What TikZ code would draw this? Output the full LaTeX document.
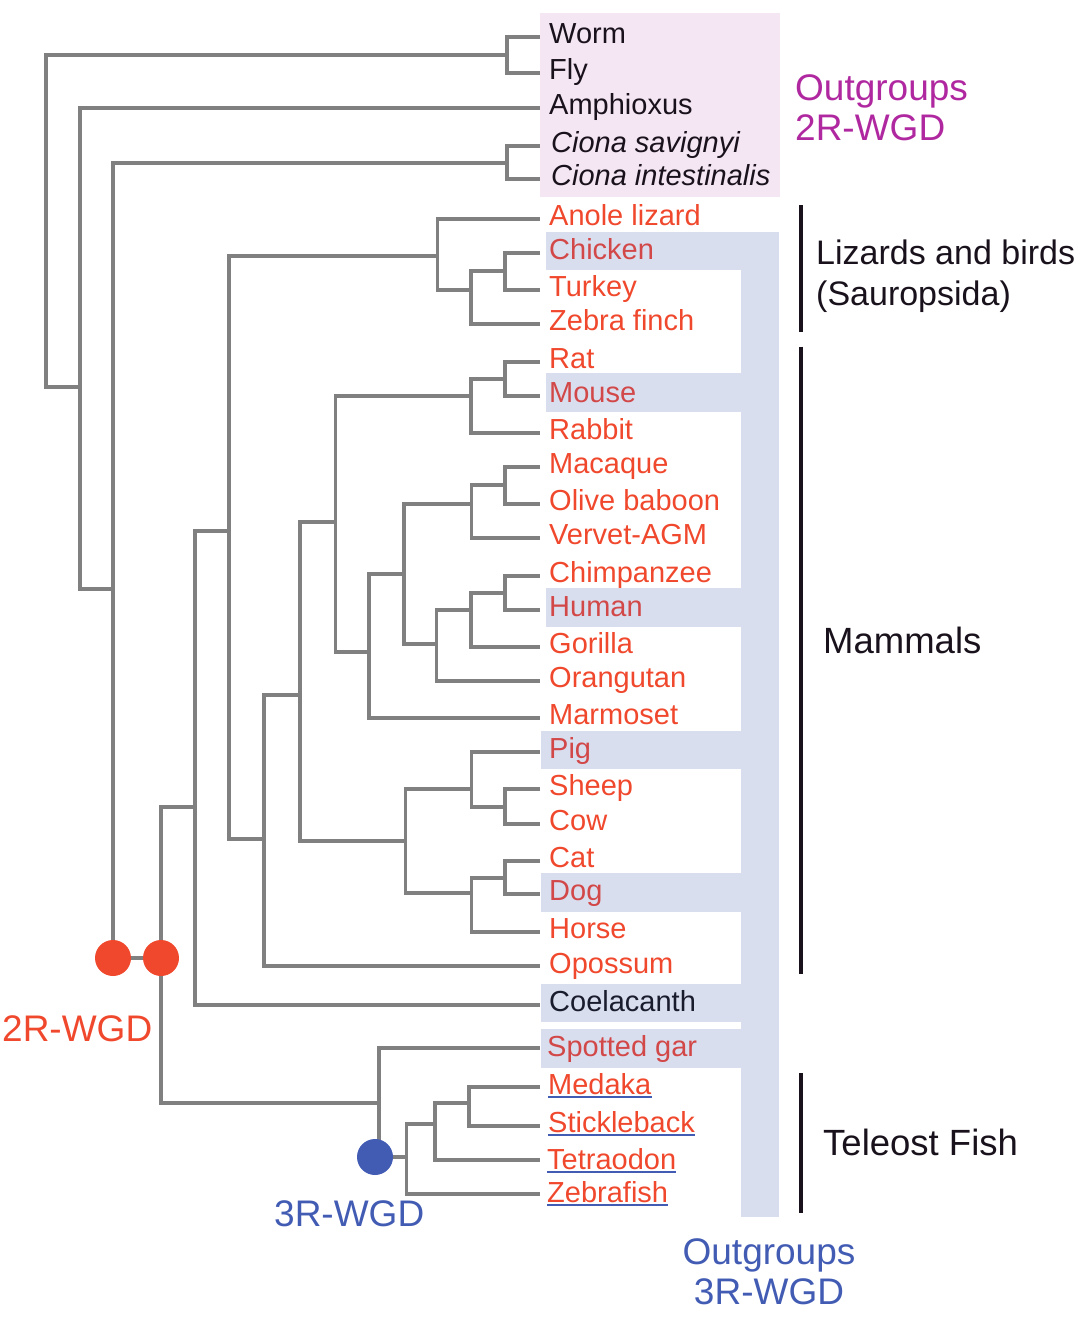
\documentclass[tikz,border=0pt]{standalone}
\usepackage{fontspec}
\setmainfont{Liberation Sans}
\definecolor{treegray}{RGB}{128,128,128}
\definecolor{leafred}{RGB}{240,72,45}
\definecolor{hired}{RGB}{210,72,72}
\definecolor{band}{RGB}{217,222,238}
\definecolor{pinkbox}{RGB}{244,230,243}
\definecolor{magentatxt}{RGB}{176,40,160}
\definecolor{wgdblue}{RGB}{66,92,180}
\definecolor{darktxt}{RGB}{25,18,28}
\definecolor{navytxt}{RGB}{25,28,45}
\tikzset{
  branch/.style={draw=treegray,line width=3.8pt},
  leaf/.style={anchor=base west,inner sep=0pt,font=\fontsize{29}{29}\selectfont},
  grplabel/.style={anchor=west,inner sep=0pt,align=left,text=darktxt},
  bar/.style={draw=darktxt,line width=4pt},
  wgdred/.style={fill=leafred,draw=none,circle,minimum size=36pt,inner sep=0pt},
  wgdbl/.style={fill=wgdblue,draw=none,circle,minimum size=36pt,inner sep=0pt},
  uline/.style={draw=wgdblue,line width=2pt},
}
\begin{document}
\begin{tikzpicture}[x=1pt,y=-1pt]
\useasboundingbox (0,0) rectangle (1086,1326);
% backgrounds
\fill[pinkbox] (540,13.3) rectangle (780,197.3);
\fill[band] (740.5,231.7) rectangle (779,1216.7);
\fill[band] (546,231.7) rectangle (779,270);
\fill[band] (546,373.3) rectangle (779,411.7);
\fill[band] (546,587.7) rectangle (779,626.7);
\fill[band] (540.7,731) rectangle (779,769.3);
\fill[band] (540.7,873.3) rectangle (779,911.7);
\fill[band] (540.7,984) rectangle (779,1022.3);
\fill[band] (540.7,1029.3) rectangle (779,1067.7);

% leaf end points
\foreach \n/\y in {worm/36.7,fly/72.7,amph/108.3,cs/145.7,ci/179.3,anole/219,chicken/253.3,turkey/290,zebrafinch/324,
  rat/361.7,mouse/396,rabbit/432.7,macaque/467.3,olive/504.3,vervet/538.3,chimp/575.7,human/609.7,gorilla/646.7,
  orang/681,marmoset/718.3,pig/752.3,sheep/789.3,cow/823.7,cat/861,dog/894.3,horse/931.7,opossum/966,coel/1005,
  gar/1048.3,medaka/1086.7,stickle/1126,tetra/1160.3,zfish/1194.3}
  \coordinate (l_\n) at (540,\y);

% internal nodes
\coordinate (root) at (45.7,220);
\coordinate (n_wf) at (507,54.7);
\coordinate (n_amph) at (80,386.7);
\coordinate (n_ciona) at (507,162.7);
\coordinate (n_olf) at (113,589);
\coordinate (c1) at (113,958);
\coordinate (c2) at (161,958);
\coordinate (n_sarc) at (194.6,806.7);
\coordinate (n_amniota) at (229,531);
\coordinate (n_saur) at (437.5,256.3);
\coordinate (n_birds) at (471,290);
\coordinate (n_galli) at (505,270.7);
\coordinate (n_ther) at (263.6,839.3);
\coordinate (n_euth) at (300,695);
\coordinate (n_euarch) at (335.5,521.7);
\coordinate (n_glires) at (471,396);
\coordinate (n_rod) at (505,378.7);
\coordinate (n_prim) at (369,652.3);
\coordinate (n_cat) at (403.6,574);
\coordinate (n_owm) at (471.4,504.3);
\coordinate (n_mac) at (505,484.7);
\coordinate (n_ape) at (436.4,644);
\coordinate (n_hom) at (471,609.7);
\coordinate (n_pan) at (505,592.7);
\coordinate (n_laura) at (405.4,840.7);
\coordinate (n_cet) at (471.4,789.3);
\coordinate (n_bov) at (505,806.7);
\coordinate (n_car) at (471.4,893.3);
\coordinate (n_fel) at (505,878.3);
\coordinate (n_actino) at (378.6,1103.3);
\coordinate (c3) at (375,1157);
\coordinate (n_tel) at (406.4,1157);
\coordinate (n_perc) at (435,1124);
\coordinate (n_ms) at (469,1103.3);

% branches
\draw[branch] (n_wf) -| (root) |- (n_amph);
\draw[branch] (l_worm) -| (n_wf) |- (l_fly);
\draw[branch] (l_amph) -| (n_amph) |- (n_olf);
\draw[branch] (l_cs) -| (n_ciona) |- (l_ci);
\draw[branch] (n_ciona) -| (n_olf) |- (c1);
\draw[branch] (c1) -- (c2);
\draw[branch] (n_sarc) -| (c2) |- (n_actino);
\draw[branch] (n_amniota) -| (n_sarc) |- (l_coel);
\draw[branch] (n_saur) -| (n_amniota) |- (n_ther);
\draw[branch] (l_anole) -| (n_saur) |- (n_birds);
\draw[branch] (n_galli) -| (n_birds) |- (l_zebrafinch);
\draw[branch] (l_chicken) -| (n_galli) |- (l_turkey);
\draw[branch] (n_euth) -| (n_ther) |- (l_opossum);
\draw[branch] (n_euarch) -| (n_euth) |- (n_laura);
\draw[branch] (n_glires) -| (n_euarch) |- (n_prim);
\draw[branch] (n_rod) -| (n_glires) |- (l_rabbit);
\draw[branch] (l_rat) -| (n_rod) |- (l_mouse);
\draw[branch] (n_cat) -| (n_prim) |- (l_marmoset);
\draw[branch] (n_owm) -| (n_cat) |- (n_ape);
\draw[branch] (n_mac) -| (n_owm) |- (l_vervet);
\draw[branch] (l_macaque) -| (n_mac) |- (l_olive);
\draw[branch] (n_hom) -| (n_ape) |- (l_orang);
\draw[branch] (n_pan) -| (n_hom) |- (l_gorilla);
\draw[branch] (l_chimp) -| (n_pan) |- (l_human);
\draw[branch] (n_cet) -| (n_laura) |- (n_car);
\draw[branch] (l_pig) -| (n_cet) |- (n_bov);
\draw[branch] (l_sheep) -| (n_bov) |- (l_cow);
\draw[branch] (n_fel) -| (n_car) |- (l_horse);
\draw[branch] (l_cat) -| (n_fel) |- (l_dog);
\draw[branch] (l_gar) -| (n_actino) |- (c3);
\draw[branch] (c3) -- (n_tel);
\draw[branch] (n_perc) -| (n_tel) |- (l_zfish);
\draw[branch] (n_ms) -| (n_perc) |- (l_tetra);
\draw[branch] (l_medaka) -| (n_ms) |- (l_stickle);

% WGD circles
\node[wgdred] (w2a) at (c1) {};
\node[wgdred] (w2b) at (c2) {};
\node[wgdbl] (w3) at (c3) {};

% leaf labels
\node[leaf,text=darktxt] (t_worm) at (549,43.2) {Worm};
\node[leaf,text=darktxt] (t_fly) at (549,79.2) {Fly};
\node[leaf,text=darktxt] (t_amph) at (549,114.8) {Amphioxus};
\node[leaf,text=darktxt] (t_cs) at (551,152.2) {\itshape Ciona savignyi};
\node[leaf,text=darktxt] (t_ci) at (551,185.8) {\itshape Ciona intestinalis};
\node[leaf,text=leafred] (t_anole) at (549,225.5) {Anole lizard};
\node[leaf,text=hired] (t_chicken) at (549,259.8) {Chicken};
\node[leaf,text=leafred] (t_turkey) at (549,296.5) {Turkey};
\node[leaf,text=leafred] (t_zebrafinch) at (549,330.5) {Zebra finch};
\node[leaf,text=leafred] (t_rat) at (549,368.2) {Rat};
\node[leaf,text=hired] (t_mouse) at (549,402.5) {Mouse};
\node[leaf,text=leafred] (t_rabbit) at (549,439.2) {Rabbit};
\node[leaf,text=leafred] (t_macaque) at (549,473.8) {Macaque};
\node[leaf,text=leafred] (t_olive) at (549,510.8) {Olive baboon};
\node[leaf,text=leafred] (t_vervet) at (549,544.8) {Vervet-AGM};
\node[leaf,text=leafred] (t_chimp) at (549,582.2) {Chimpanzee};
\node[leaf,text=hired] (t_human) at (549,616.2) {Human};
\node[leaf,text=leafred] (t_gorilla) at (549,653.2) {Gorilla};
\node[leaf,text=leafred] (t_orang) at (549,687.5) {Orangutan};
\node[leaf,text=leafred] (t_marmoset) at (549,724.8) {Marmoset};
\node[leaf,text=hired] (t_pig) at (549,758.8) {Pig};
\node[leaf,text=leafred] (t_sheep) at (549,795.8) {Sheep};
\node[leaf,text=leafred] (t_cow) at (549,830.2) {Cow};
\node[leaf,text=leafred] (t_cat) at (549,867.5) {Cat};
\node[leaf,text=hired] (t_dog) at (549,900.8) {Dog};
\node[leaf,text=leafred] (t_horse) at (549,938.2) {Horse};
\node[leaf,text=leafred] (t_opossum) at (549,973) {Opossum};
\node[leaf,text=navytxt] (t_coel) at (549,1011.5) {Coelacanth};
\node[leaf,text=hired] (t_gar) at (547,1056) {Spotted gar};
\node[leaf,text=leafred] (t_medaka) at (548,1094) {Medaka};
\node[leaf,text=leafred] (t_stickle) at (548,1132.5) {Stickleback};
\node[leaf,text=leafred] (t_tetra) at (547,1169) {Tetraodon};
\node[leaf,text=leafred] (t_zfish) at (547,1202.5) {Zebrafish};
% underlines
\foreach \t in {medaka,stickle,tetra,zfish}
  \draw[uline] ([yshift=-2.5pt]t_\t.base west) -- ([yshift=-2.5pt]t_\t.base east);

% group labels
\node[anchor=west,inner sep=0pt,align=left,text=magentatxt,font=\fontsize{37}{40}\selectfont] (og2) at (795,107.5) {Outgroups\\2R-WGD};
\node[grplabel,font=\fontsize{34}{41}\selectfont] (saur) at (816,276) {Lizards and birds\\(Sauropsida)};
\node[grplabel,font=\fontsize{36.5}{40}\selectfont] (mam) at (823,640) {Mammals};
\node[grplabel,font=\fontsize{36.5}{40}\selectfont] (tel) at (823,1142) {Teleost Fish};
\node[anchor=north,inner sep=0pt,align=center,text=wgdblue,font=\fontsize{37}{40}\selectfont] (og3) at (769,1238.5) {Outgroups\\3R-WGD};
\node[anchor=west,inner sep=0pt,text=leafred,font=\fontsize{37}{40}\selectfont] (lab2r) at (2,1028.3) {2R-WGD};
\node[anchor=west,inner sep=0pt,text=wgdblue,font=\fontsize{37}{40}\selectfont] (lab3r) at (274,1213.5) {3R-WGD};

% bars
\coordinate (b1t) at (801,205); \coordinate (b1b) at (801,331.7);
\coordinate (b2t) at (801,346.7); \coordinate (b2b) at (801,974);
\coordinate (b3t) at (801,1073.3); \coordinate (b3b) at (801,1213.3);
\draw[bar] (b1t) -- (b1b);
\draw[bar] (b2t) -- (b2b);
\draw[bar] (b3t) -- (b3b);
\end{tikzpicture}
\end{document}
